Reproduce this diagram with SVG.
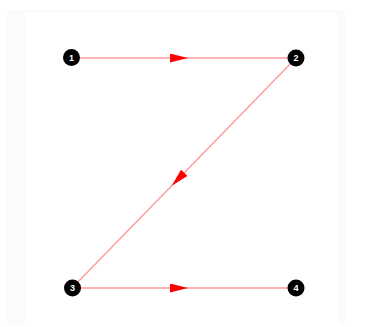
<svg xmlns="http://www.w3.org/2000/svg" width="365" height="327" viewBox="0 0 365 327">
<style>
.edge{fill:none;stroke:#ff9a9a;stroke-width:1.4;marker-mid:url(#arr)}
.node circle{fill:#000}
.node text{fill:#fff;font-family:"Liberation Sans",Arial,sans-serif;font-size:9px;font-weight:bold;text-anchor:middle}
</style>
<defs>
<marker id="arr" markerUnits="userSpaceOnUse" markerWidth="18" markerHeight="9" refX="18" refY="4.5" orient="auto">
<path d="M0,0 L18,4.5 L0,9 Z" fill="#ff0000"/>
</marker>
</defs>
<rect x="0" y="0" width="365" height="327" fill="#ffffff"/>
<rect x="7" y="10" width="338" height="315" fill="#fafbfb"/>
<rect x="25" y="12" width="313" height="313" fill="#ffffff"/>
<g id="connectors">
<path class="edge" d="M72,58 L188,58 L296,58"/>
<path class="edge" d="M296,58 L171.7,185.7 L72,288"/>
<path class="edge" d="M72,288 L188,288 L296,288"/>
</g>
<g id="node1" class="node"><circle cx="71.5" cy="57.5" r="8.5"/><text x="71.5" y="60.8">1</text></g>
<g id="node2" class="node"><circle cx="296" cy="58" r="8.5"/><text x="296" y="61.3">2</text></g>
<g id="node3" class="node"><circle cx="72.5" cy="288" r="8.5"/><text x="72.5" y="291.3">3</text></g>
<g id="node4" class="node"><circle cx="296" cy="288" r="8.5"/><text x="296" y="291.3">4</text></g>
</svg>
